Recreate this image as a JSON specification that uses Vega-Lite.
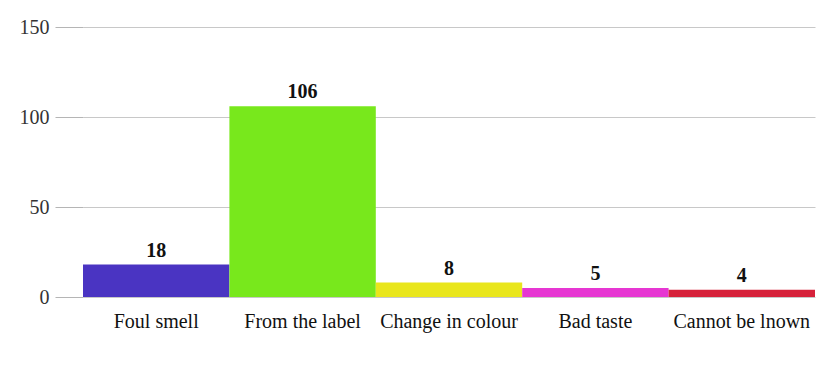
{
  "$schema": "https://vega.github.io/schema/vega-lite/v6.json",
  "width": 732,
  "height": 270,
  "autosize": {"type": "none"},
  "padding": {"left": 83, "top": 27, "right": 10, "bottom": 70},
  "background": "white",
  "data": {
    "values": [
      {"cause": "Foul smell", "count": 18, "color": "#4a34c2"},
      {"cause": "From the label", "count": 106, "color": "#78e81c"},
      {"cause": "Change in colour", "count": 8, "color": "#e9e61c"},
      {"cause": "Bad taste", "count": 5, "color": "#e636d2"},
      {"cause": "Cannot be lnown", "count": 4, "color": "#d6213a"}
    ]
  },
  "encoding": {
    "x": {
      "field": "cause",
      "type": "nominal",
      "sort": null,
      "scale": {"paddingInner": 0, "paddingOuter": 0},
      "axis": {
        "title": null,
        "labelAngle": 0,
        "domain": false,
        "ticks": false,
        "labelPadding": 14,
        "labelFont": "Liberation Serif",
        "labelFontSize": 20,
        "labelColor": "#111111"
      }
    },
    "y": {
      "field": "count",
      "type": "quantitative",
      "scale": {"domain": [0, 150]},
      "axis": {
        "title": null,
        "values": [0, 50, 100, 150],
        "domain": false,
        "tickSize": 28,
        "tickColor": "#b5b5b5",
        "gridColor": "#c8c8c8",
        "labelPadding": 6,
        "labelFont": "Liberation Serif",
        "labelFontSize": 20,
        "labelColor": "#333333"
      }
    }
  },
  "layer": [
    {
      "mark": {"type": "bar"},
      "encoding": {
        "color": {"field": "color", "type": "nominal", "scale": null}
      }
    },
    {
      "mark": {"type": "text", "dy": -14, "font": "Liberation Serif", "fontSize": 20, "fontWeight": "bold", "color": "#111111"},
      "encoding": {"text": {"field": "count", "type": "quantitative"}}
    }
  ],
  "config": {"view": {"stroke": null}}
}
